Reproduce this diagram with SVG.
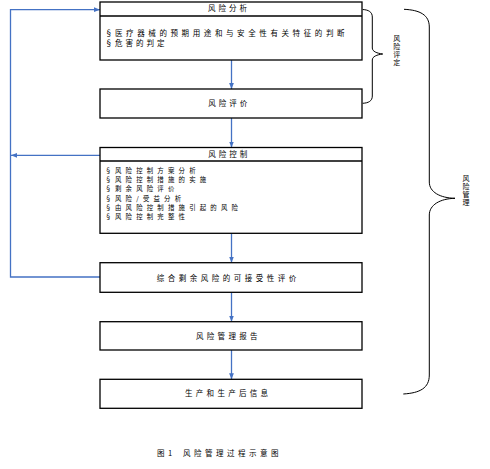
<svg xmlns="http://www.w3.org/2000/svg" width="490" height="469" viewBox="0 0 490 469">
<style>
.box{fill:#fff;stroke:#000;stroke-width:1.3}
.t{font-family:"Noto Sans CJK SC","Noto Sans",sans-serif;font-size:7.5px;letter-spacing:3px;fill:#000}
.b{font-family:"Noto Sans CJK SC","Noto Sans",sans-serif;font-size:6.4px;letter-spacing:4.2px;fill:#000}
.s{letter-spacing:0}
.v{font-family:"Noto Sans CJK SC","Noto Sans",sans-serif;font-size:7px;letter-spacing:1px;fill:#000;writing-mode:tb}
.c{fill:none;stroke:#4472C4;stroke-width:1.3}
.br{fill:none;stroke:#000;stroke-width:1}
</style>
<defs>
<marker id="ah" viewBox="0 0 10 10" refX="10" refY="5" markerWidth="6" markerHeight="6" markerUnits="userSpaceOnUse" orient="auto">
<path d="M0,1 L10,5 L0,9 z" fill="#4472C4"/>
</marker>
</defs>
<rect width="490" height="469" fill="#fff"/>
<g id="connectors">
<path class="c" d="M231.5,60 L231.5,89" marker-end="url(#ah)"/>
<path class="c" d="M231.5,118 L231.5,147.5" marker-end="url(#ah)"/>
<path class="c" d="M231.5,233.3 L231.5,262.7" marker-end="url(#ah)"/>
<path class="c" d="M231.5,292.3 L231.5,321.7" marker-end="url(#ah)"/>
<path class="c" d="M231.5,350 L231.5,379.3" marker-end="url(#ah)"/>
<path class="c" d="M100,277 L10.5,277 L10.5,9.7 L100,9.7" marker-end="url(#ah)"/>
<path class="c" d="M100,155.3 L11,155.3" marker-end="url(#ah)"/>
</g>
<g id="n1">
<rect class="box" x="100" y="2" width="262" height="58"/>
<line x1="100" y1="16" x2="362" y2="16" stroke="#000" stroke-width="1.3"/>
<text class="t" x="208" y="10.5">风险分析</text>
<text class="t" y="35.8"><tspan class="s" x="105">§</tspan><tspan x="115" style="letter-spacing:3.6px">医疗器械的预期用途和与安全性有关特征的判断</tspan></text>
<text class="t" y="45.8"><tspan class="s" x="105">§</tspan><tspan x="115">危害的判定</tspan></text>
</g>
<g id="n2">
<rect class="box" x="100" y="89" width="262" height="29"/>
<text class="t" x="208.3" y="106">风险评价</text>
</g>
<g id="n3">
<rect class="box" x="100" y="147.5" width="262" height="85.8"/>
<line x1="100" y1="161" x2="362" y2="161" stroke="#000" stroke-width="1.3"/>
<text class="t" x="208.3" y="157">风险控制</text>
<text class="b" y="172.5"><tspan class="s" x="105">§</tspan><tspan x="115">风险控制方案分析</tspan></text>
<text class="b" y="181.8"><tspan class="s" x="105">§</tspan><tspan x="115">风险控制措施的实施</tspan></text>
<text class="b" y="191.2"><tspan class="s" x="105">§</tspan><tspan x="115">剩余风险评价</tspan></text>
<text class="b" y="200.5"><tspan class="s" x="105">§</tspan><tspan x="115">风险/受益分析</tspan></text>
<text class="b" y="209.8"><tspan class="s" x="105">§</tspan><tspan x="115">由风险控制措施引起的风险</tspan></text>
<text class="b" y="219.2"><tspan class="s" x="105">§</tspan><tspan x="115">风险控制完整性</tspan></text>
</g>
<g id="n4">
<rect class="box" x="100" y="262.7" width="262" height="29.6"/>
<text class="t" x="156.7" y="280.5" style="letter-spacing:3.5px">综合剩余风险的可接受性评价</text>
</g>
<g id="n5">
<rect class="box" x="100" y="321.7" width="262" height="28.3"/>
<text class="t" x="196" y="338.5" style="letter-spacing:3.3px">风险管理报告</text>
</g>
<g id="n6">
<rect class="box" x="100" y="379.3" width="262" height="29"/>
<text class="t" x="185" y="396" style="letter-spacing:3.3px">生产和生产后信息</text>
</g>
<g id="brace1">
<path class="br" d="M362.7,9.5 C368.5,9.8 372.3,12 372.3,17 L372.3,48 C372.3,51.5 377,53.3 382.7,54 C377,54.7 372.3,56.5 372.3,60 L372.3,96 C372.3,101 368.5,103 362.7,103.3"/>
<text class="v" x="396.7" y="35">风险评定</text>
</g>
<g id="brace2">
<path class="br" d="M404,9.3 C420,10 429.3,15 429.3,27 L429.3,182 C429.3,192 440,198 455,198.3 C440,198.6 429.3,205 429.3,215 L429.3,375 C429.3,388 420,393 403.3,394"/>
<text class="v" x="466" y="175">风险管理</text>
</g>
<g id="caption">
<text class="t" x="157" y="455.5" style="letter-spacing:3.5px">图1<tspan x="183">风险管理过程示意图</tspan></text>
</g>
</svg>
